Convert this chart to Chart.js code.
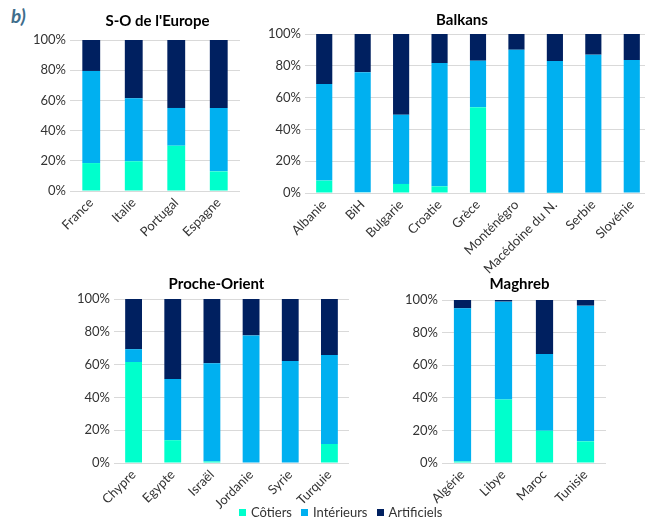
<!DOCTYPE html>
<html>
<head>
<meta charset="utf-8">
<script src="https://cdn.jsdelivr.net/npm/chart.js@4"></script>
<style>
  html, body { margin: 0; padding: 0; background: #fff; }
  body { width: 645px; height: 519px; overflow: hidden; position: relative; font-family: Lato, "Open Sans", sans-serif; }
  canvas { position: absolute; }
  #tag { position: absolute; left: 11px; top: 4px; font: italic bold 19px Lato, sans-serif; color: #3F6E8C; }
  #legend { position: absolute; left: 239px; top: 504px; display: flex; font: 13px Lato, sans-serif; color: #333; }
  #legend span { display: inline-flex; align-items: center; margin-right: 9px; }
  #legend i { display: inline-block; width: 7px; height: 7px; margin-right: 5px; }
</style>
</head>
<body>
<div id="tag">b)</div>
<canvas id="c1"></canvas>
<canvas id="c2"></canvas>
<canvas id="c3"></canvas>
<canvas id="c4"></canvas>
<div id="legend"></div>
<script>
// ---- Data (percent of total) ----
const seriesNames = ['Côtiers', 'Intérieurs', 'Artificiels'];

const swTitle = "S-O de l'Europe";
const swCategories = ['France', 'Italie', 'Portugal', 'Espagne'];
const swCotiers     = [18.5, 19.7, 30.0, 13.0];
const swInterieurs  = [61.0, 41.8, 25.0, 42.0];
const swArtificiels = [20.5, 38.5, 45.0, 45.0];

const bkTitle = 'Balkans';
const bkCategories = ['Albanie', 'BiH', 'Bulgarie', 'Croatie', 'Grèce', 'Monténégro', 'Macédoine du N.', 'Serbie', 'Slovénie'];
const bkCotiers     = [7.8, 0.4, 5.7, 4.2, 54.0, 0.3, 0.2, 0.3, 0.3];
const bkInterieurs  = [60.7, 75.6, 43.5, 77.5, 29.2, 89.8, 82.8, 86.7, 83.3];
const bkArtificiels = [31.5, 24.0, 50.8, 18.3, 16.8, 9.9, 17.0, 13.0, 16.4];

const poTitle = 'Proche-Orient';
const poCategories = ['Chypre', 'Egypte', 'Israël', 'Jordanie', 'Syrie', 'Turquie'];
const poCotiers     = [61.6, 13.9, 1.0, 0.3, 0.3, 11.6];
const poInterieurs  = [7.8, 37.3, 59.8, 77.5, 61.9, 54.3];
const poArtificiels = [30.6, 48.8, 39.2, 22.2, 37.8, 34.1];

const mgTitle = 'Maghreb';
const mgCategories = ['Algérie', 'Libye', 'Maroc', 'Tunisie'];
const mgCotiers     = [1.0, 38.9, 19.8, 13.3];
const mgInterieurs  = [93.9, 60.1, 47.1, 83.2];
const mgArtificiels = [5.1, 1.0, 33.1, 3.5];

const yTicks = [0, 20, 40, 60, 80, 100];

// ---- Styles ----
const colors = ['#00FFCC', '#00B0F0', '#002060'];
const FONT = 'Lato, "Open Sans", sans-serif';
const TICK_COLOR = '#333333';
const GRID_COLOR = '#D9D9D9';

function makeChart(id, box, title, cats, s1, s2, s3) {
  const cv = document.getElementById(id);
  cv.width = box.w; cv.height = box.h;
  cv.style.left = box.x + 'px'; cv.style.top = box.y + 'px';
  const vals = [s1, s2, s3];
  return new Chart(cv, {
    type: 'bar',
    data: {
      labels: cats,
      datasets: seriesNames.map((n, i) => ({
        label: n, data: vals[i], backgroundColor: colors[i], borderWidth: 0,
        categoryPercentage: 1, barPercentage: box.bar
      }))
    },
    options: {
      responsive: false, animation: false, devicePixelRatio: 1,
      layout: { padding: 0 },
      plugins: {
        legend: { display: false },
        tooltip: { enabled: false },
        title: {
          display: true, text: title, color: '#000',
          font: { family: FONT, size: 15, weight: 'bold' },
          padding: { top: box.tp, bottom: box.tb }
        }
      },
      scales: {
        x: {
          stacked: true,
          grid: { display: false, drawTicks: false },
          border: { display: false },
          ticks: { color: TICK_COLOR, font: { family: FONT, size: 13 }, minRotation: 45, maxRotation: 45, autoSkip: false, padding: 4 },
          afterFit: s => { s.height = box.xh; }
        },
        y: {
          stacked: true, min: 0, max: 100,
          afterBuildTicks: s => { s.ticks = yTicks.map(v => ({ value: v })); },
          grid: { color: GRID_COLOR, drawTicks: false, lineWidth: 1 },
          border: { display: false },
          ticks: { color: TICK_COLOR, font: { family: FONT, size: 13 }, padding: 4, callback: v => v + '%' },
          afterFit: s => { s.width = box.yw; }
        },
        y2: {
          type: 'linear', position: 'right', display: true,
          grid: { display: false, drawTicks: false },
          border: { display: false },
          ticks: { display: false },
          afterFit: s => { s.width = box.rw; }
        }
      }
    }
  });
}

// chart boxes: canvas position/size, y-axis width, right spacer width, x-axis height, title paddings
makeChart('c1', { x: 28, y: 0, w: 259, h: 252, yw: 42, rw: 47, xh: 61, tp: 12, tb: 10, bar: 0.42 },
  swTitle, swCategories, swCotiers, swInterieurs, swArtificiels);
makeChart('c2', { x: 265, y: 0, w: 394, h: 290, yw: 40, rw: 8, xh: 97, tp: 11, tb: 5, bar: 0.42 },
  bkTitle, bkCategories, bkCotiers, bkInterieurs, bkArtificiels);
makeChart('c3', { x: 76, y: 268, w: 281, h: 251, yw: 38, rw: 8, xh: 56, tp: 7, tb: 6, bar: 0.43 },
  poTitle, poCategories, poCotiers, poInterieurs, poArtificiels);
makeChart('c4', { x: 405, y: 268, w: 229, h: 251, yw: 37, rw: 28, xh: 56, tp: 7, tb: 7, bar: 0.42 },
  mgTitle, mgCategories, mgCotiers, mgInterieurs, mgArtificiels);

// legend
const lg = document.getElementById('legend');
seriesNames.forEach((n, i) => {
  const sp = document.createElement('span');
  const sw = document.createElement('i');
  sw.style.background = colors[i];
  sp.appendChild(sw);
  sp.appendChild(document.createTextNode(n));
  lg.appendChild(sp);
});
</script>
</body>
</html>
